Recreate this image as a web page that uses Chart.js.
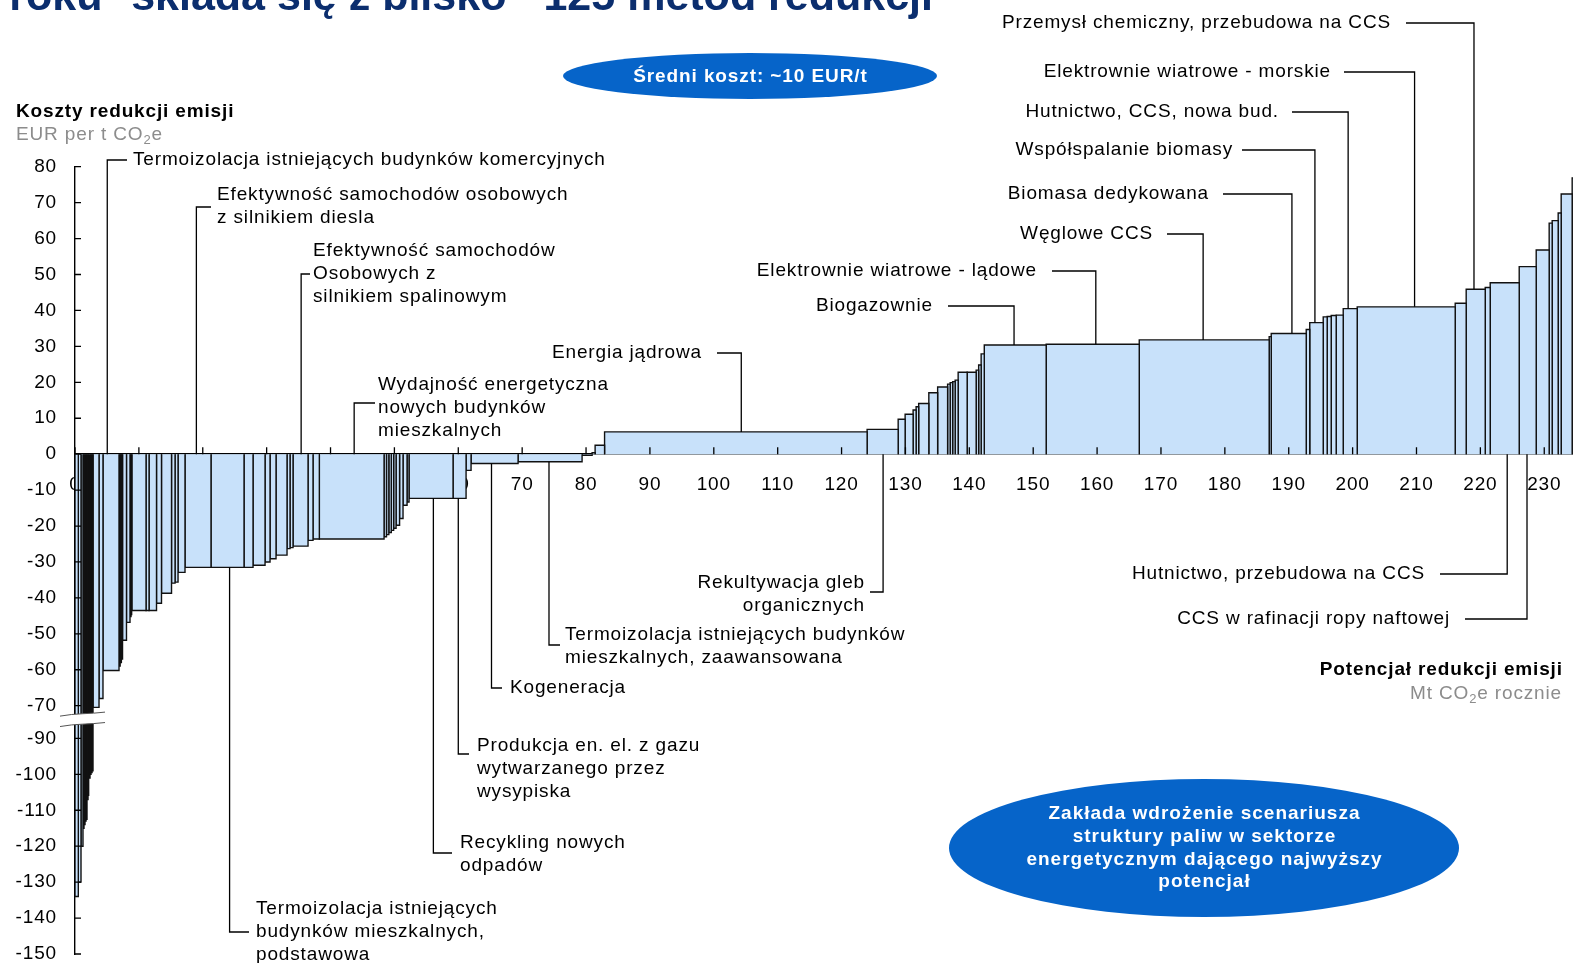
<!DOCTYPE html>
<html>
<head>
<meta charset="utf-8">
<script src="https://cdn.jsdelivr.net/npm/chart.js@4.4.1/dist/chart.umd.min.js"></script>
<style>
  html, body { margin: 0; padding: 0; background: #fff; overflow: hidden; }
  canvas { display: block; }
</style>
</head>
<body>
<canvas id="macc" width="1573" height="963"></canvas>
<script>
// Abatement measures in merit order: potential (Mt CO2e per year) and cost (EUR per t CO2e)
const barWidths = [
  0.52, 0.42, 0.31,
  0.16, 0.16, 0.16, 0.15, 0.16, 0.15, 0.16, 0.16, 0.16, 0.15,
  0.94, 0.62, 2.51, 0.18, 0.19, 0.18,
  0.62, 0.55, 0.16, 0.15, 2.20, 0.47, 1.17, 0.78, 1.57, 0.55, 0.47,
  1.09, 4.07, 5.17, 1.41, 1.88, 0.78, 0.94, 1.72, 0.47, 0.47,
  2.35, 0.78, 0.99, 10.13, 0.38, 0.37, 0.38, 0.37, 0.38, 0.55,
  0.54, 0.63, 0.31, 6.89, 2.04, 0.78, 7.36, 10.02, 1.57, 0.47,
  1.48, 41.10, 4.86, 1.09, 1.25, 0.47, 0.40, 1.59, 1.38, 1.56,
  0.40, 0.39, 0.39, 0.47, 1.41, 1.41, 0.39, 0.39, 0.49, 9.69,
  14.57, 20.34, 0.32, 5.48, 0.55, 2.11, 0.62, 0.63, 0.78, 1.10,
  2.19, 15.34, 1.72, 2.98, 0.78, 4.54, 2.66, 2.03, 0.47, 0.94,
  0.47, 1.72, 1.63
];
const barCosts = [
  -134, -130, -120,
  -115, -114, -113, -112.5, -107, -106, -101, -100, -99.5, -99,
  -71, -68, -60.2, -59, -58, -57,
  -51.8, -46.8, -45.2, -44.8, -43.5, -43.5, -43.5, -41.5, -38.7, -35.9, -35.6,
  -32.9, -31.5, -31.5, -31.5, -30.9, -30, -29.1, -28.1, -26.3, -26,
  -25.6, -24, -23.6, -23.6, -23, -22.4, -21.8, -21.2, -20.6, -19.8,
  -17.9, -14.2, -13.3, -12.3, -12.3, -4.5, -2.6, -2.1, -0.3, 0.4,
  2.5, 6.2, 6.9, 9.7, 11.1, 12.3, 13.2, 14.1, 17.1, 18.7,
  19.5, 19.9, 20.2, 20.6, 22.8, 22.8, 23.4, 24.8, 27.9, 30.4,
  30.6, 31.8, 32.7, 33.6, 34.7, 36.6, 38.2, 38.3, 38.6, 38.7,
  40.5, 41.0, 42.0, 45.9, 46.4, 47.7, 52.2, 56.8, 64.3, 65.0,
  67.1, 72.4, 76.9
];
const xTickValues = [0, 10, 20, 30, 40, 50, 60, 70, 80, 90, 100, 110, 120, 130, 140, 150, 160, 170, 180, 190, 200, 210, 220, 230];
const xTickLabels = xTickValues.map(String);
const yTickValues = [80, 70, 60, 50, 40, 30, 20, 10, 0, -10, -20, -30, -40, -50, -60, -70, -90, -100, -110, -120, -130, -140, -150];
const yTickLabels = yTickValues.map(String);

const FONT = '"Liberation Sans", Arial, Helvetica, sans-serif';
const TRACKING = '0.85px';
const BAR_FILL = '#c8e1fa';
const EDGE = '#111111';
const BLUE = '#0664c9';
const NAVY = '#0b2e6e';

// Broken cost axis: the stretch from -70 to -90 is squeezed, everything below -90 is moved up.
function toAxis(v) {
  if (v >= -70) return v;
  if (v <= -90) return v + 10.9;
  return -70 + (v + 70) * (9.1 / 20);
}

// Bars laid end to end along the potential axis
const bars = [];
let runningX = 0;
barCosts.forEach((cost, i) => {
  const x0 = runningX, x1 = runningX + barWidths[i];
  runningX = x1;
  bars.push({ x0, x1, cost });
});

function costAt(xv) {
  const b = bars.find(b => xv >= b.x0 && xv < b.x1);
  return b ? b.cost : 0;
}

const datasets = bars.map(b => {
  const h = toAxis(b.cost);
  return {
    data: [{ x: b.x0, y: 0 }, { x: b.x0, y: h }, { x: b.x1, y: h }, { x: b.x1, y: 0 }],
    fill: 'origin',
    backgroundColor: BAR_FILL,
    borderColor: EDGE,
    borderWidth: 1.4,
    borderJoinStyle: 'miter',
    pointRadius: 0,
    pointHoverRadius: 0,
    tension: 0
  };
});

// Named measures with elbow leader lines
const callouts = [
  { lines: ['Termoizolacja istniejących budynków komercyjnych'], at: 5.05, tx: 133, ty: 160, align: 'left', elbow: 160, from: 127 },
  { lines: ['Efektywność samochodów osobowych', 'z silnikiem diesla'], at: 19.0, tx: 217, ty: 195, align: 'left', elbow: 207, from: 211 },
  { lines: ['Efektywność samochodów', 'Osobowych z', 'silnikiem spalinowym'], at: 35.4, tx: 313, ty: 251, align: 'left', elbow: 274, from: 310 },
  { lines: ['Wydajność energetyczna', 'nowych budynków', 'mieszkalnych'], at: 43.7, tx: 378, ty: 385, align: 'left', elbow: 403, from: 375 },
  { lines: ['Energia jądrowa'], at: 104.3, tx: 702, ty: 353, align: 'right', elbow: 353, from: 717 },
  { lines: ['Biogazownie'], at: 147.0, tx: 933, ty: 306, align: 'right', elbow: 306, from: 948 },
  { lines: ['Elektrownie wiatrowe - lądowe'], at: 159.8, tx: 1037, ty: 271, align: 'right', elbow: 271, from: 1052 },
  { lines: ['Węglowe CCS'], at: 176.6, tx: 1153, ty: 234, align: 'right', elbow: 234, from: 1167 },
  { lines: ['Biomasa dedykowana'], at: 190.5, tx: 1209, ty: 194, align: 'right', elbow: 194, from: 1223 },
  { lines: ['Współspalanie biomasy'], at: 194.1, tx: 1233, ty: 150, align: 'right', elbow: 150, from: 1242 },
  { lines: ['Hutnictwo, CCS, nowa bud.'], at: 199.3, tx: 1279, ty: 112, align: 'right', elbow: 112, from: 1292 },
  { lines: ['Elektrownie wiatrowe - morskie'], at: 209.7, tx: 1331, ty: 72, align: 'right', elbow: 72, from: 1344 },
  { lines: ['Przemysł chemiczny, przebudowa na CCS'], at: 219.0, tx: 1391, ty: 23, align: 'right', elbow: 23, from: 1406 },
  { lines: ['Hutnictwo, przebudowa na CCS'], at: 224.2, tx: 1425, ty: 574, align: 'right', elbow: 574, from: 1440, below: true },
  { lines: ['CCS w rafinacji ropy naftowej'], at: 227.3, tx: 1450, ty: 619, align: 'right', elbow: 619, from: 1465, below: true },
  { lines: ['Rekultywacja gleb', 'organicznych'], at: 126.5, tx: 865, ty: 583, align: 'right', elbow: 592, from: 870, below: true },
  { lines: ['Termoizolacja istniejących budynków', 'mieszkalnych, zaawansowana'], at: 74.2, tx: 565, ty: 635, align: 'left', elbow: 645, from: 560, below: true },
  { lines: ['Kogeneracja'], at: 65.2, tx: 510, ty: 688, align: 'left', elbow: 688, from: 502, below: true },
  { lines: ['Produkcja en. el. z gazu', 'wytwarzanego przez', 'wysypiska'], at: 60.0, tx: 477, ty: 746, align: 'left', elbow: 754, from: 469, below: true },
  { lines: ['Recykling nowych', 'odpadów'], at: 56.1, tx: 460, ty: 843, align: 'left', elbow: 853, from: 452, below: true },
  { lines: ['Termoizolacja istniejących', 'budynków mieszkalnych,', 'podstawowa'], at: 24.2, tx: 256, ty: 909, align: 'left', elbow: 932, from: 249, below: true }
];
const LINE_GAP = 22.7;

// Right-aligned text that also counts the trailing letter gap
function fillTracked(ctx, text, x, y, align) {
  if (align === 'right') {
    ctx.textAlign = 'left';
    ctx.fillText(text, x - ctx.measureText(text).width + parseFloat(ctx.letterSpacing || '0'), y);
  } else if (align === 'center') {
    ctx.textAlign = 'left';
    ctx.fillText(text, x - (ctx.measureText(text).width - parseFloat(ctx.letterSpacing || '0')) / 2, y);
  } else {
    ctx.textAlign = 'left';
    ctx.fillText(text, x, y);
  }
}

function drawSubscripted(ctx, parts, x, y, align, size, color) {
  const main = size + 'px ' + FONT;
  const small = Math.round(size * 0.68) + 'px ' + FONT;
  ctx.save();
  ctx.fillStyle = color;
  ctx.textBaseline = 'middle';
  ctx.textAlign = 'left';
  const widths = parts.map((p, i) => { ctx.font = i % 2 ? small : main; return ctx.measureText(p).width; });
  const total = widths.reduce((a, b) => a + b, 0);
  let cx = align === 'right' ? x - total : x;
  parts.forEach((p, i) => {
    ctx.font = i % 2 ? small : main;
    ctx.fillText(p, cx, i % 2 ? y + 5 : y);
    cx += widths[i];
  });
  ctx.restore();
}

const tracking = {
  id: 'tracking',
  beforeLayout(chart) { chart.ctx.letterSpacing = TRACKING; },
  beforeDraw(chart) { chart.ctx.letterSpacing = TRACKING; }
};

const decor = {
  id: 'maccDecor',
  afterDatasetsDraw(chart) {
    const { ctx, scales: { x, y } } = chart;
    const y0 = y.getPixelForValue(0);
    ctx.save();
    ctx.strokeStyle = '#000';
    ctx.lineWidth = 1.3;
    // inward tick marks
    ctx.beginPath();
    xTickValues.forEach(v => {
      const px = x.getPixelForValue(v);
      ctx.moveTo(px, y0); ctx.lineTo(px, y0 - 7);
    });
    yTickValues.forEach(v => {
      const py = y.getPixelForValue(toAxis(v));
      ctx.moveTo(x.left, py); ctx.lineTo(x.left + 6, py);
    });
    ctx.stroke();

    // axis break band
    const xl = x.left - 15, xr = x.getPixelForValue(4.7);
    const t1 = y.getPixelForValue(-72.9), t2 = y.getPixelForValue(-75.8);
    const slope = -4;
    const curve = (yy) => {
      ctx.moveTo(xl, yy);
      ctx.bezierCurveTo(xl + (xr - xl) * 0.35, yy - 3, xl + (xr - xl) * 0.65, yy + slope + 2, xr, yy + slope);
    };
    ctx.beginPath();
    curve(t1);
    ctx.lineTo(xr, t2 + slope);
    ctx.bezierCurveTo(xl + (xr - xl) * 0.65, t2 + slope + 2, xl + (xr - xl) * 0.35, t2 - 3, xl, t2);
    ctx.closePath();
    ctx.fillStyle = '#fff';
    ctx.fill();
    ctx.beginPath();
    curve(t1);
    curve(t2);
    ctx.strokeStyle = '#555';
    ctx.lineWidth = 1;
    ctx.stroke();

    // leader lines and labels
    ctx.strokeStyle = '#000';
    ctx.lineWidth = 1.3;
    ctx.fillStyle = '#000';
    ctx.font = '19px ' + FONT;
    ctx.letterSpacing = TRACKING;
    ctx.textBaseline = 'middle';
    callouts.forEach(c => {
      const ax = x.getPixelForValue(c.at);
      const cost = costAt(c.at);
      const yEnd = c.below ? y.getPixelForValue(Math.min(0, toAxis(cost)))
                           : y.getPixelForValue(Math.max(0, cost));
      ctx.beginPath();
      ctx.moveTo(c.from, c.elbow);
      ctx.lineTo(ax, c.elbow);
      ctx.lineTo(ax, yEnd);
      ctx.stroke();
      c.lines.forEach((t, i) => fillTracked(ctx, t, c.tx, c.ty + i * LINE_GAP, c.align));
    });
    ctx.restore();
  },
  afterDraw(chart) {
    const ctx = chart.ctx;
    ctx.save();
    ctx.letterSpacing = '0px';
    // headline (runs off the top edge)
    ctx.fillStyle = NAVY;
    ctx.font = 'bold 43px ' + FONT;
    ctx.textAlign = 'right';
    ctx.textBaseline = 'alphabetic';
    ctx.fillText('roku* składa się z blisko ~125 metod redukcji', 933, 10);

    ctx.letterSpacing = TRACKING;
    // axis titles
    ctx.fillStyle = '#000';
    ctx.font = 'bold 19px ' + FONT;
    ctx.textBaseline = 'middle';
    fillTracked(ctx, 'Koszty redukcji emisji', 16, 112, 'left');
    drawSubscripted(ctx, ['EUR per t CO', '2', 'e'], 16, 135, 'left', 19, '#8c8c8c');
    ctx.fillStyle = '#000';
    ctx.font = 'bold 19px ' + FONT;
    fillTracked(ctx, 'Potencjał redukcji emisji', 1562, 670, 'right');
    drawSubscripted(ctx, ['Mt CO', '2', 'e rocznie'], 1562, 694, 'right', 19, '#8c8c8c');

    // call-out ellipses
    ctx.fillStyle = BLUE;
    ctx.beginPath();
    ctx.ellipse(750, 76, 187, 23, 0, 0, Math.PI * 2);
    ctx.fill();
    ctx.beginPath();
    ctx.ellipse(1204, 848, 255, 69, 0, 0, Math.PI * 2);
    ctx.fill();
    ctx.fillStyle = '#fff';
    ctx.letterSpacing = '0.9px';
    ctx.font = 'bold 19px ' + FONT;
    fillTracked(ctx, 'Średni koszt: ~10 EUR/t', 750, 77, 'center');
    ctx.letterSpacing = '1px';
    ['Zakłada wdrożenie scenariusza', 'struktury paliw w sektorze', 'energetycznym dającego najwyższy', 'potencjał']
      .forEach((t, i) => fillTracked(ctx, t, 1204, 814 + i * 22.7, 'center'));
    ctx.restore();
  }
};

new Chart(document.getElementById('macc'), {
  type: 'line',
  data: { datasets },
  plugins: [tracking, decor],
  options: {
    responsive: false,
    animation: false,
    devicePixelRatio: 1,
    events: [],
    layout: { padding: { left: 0, right: 0, top: 166.7, bottom: 9 } },
    plugins: { legend: { display: false }, tooltip: { enabled: false } },
    scales: {
      x: {
        type: 'linear',
        position: { y: 0 },
        min: 0,
        max: 234.5,
        z: 1,
        grid: { display: false, drawTicks: false },
        border: { display: true, color: '#000', width: 1.4 },
        afterBuildTicks: s => { s.ticks = xTickValues.map(v => ({ value: v })); },
        afterFit: s => { s.paddingLeft = 0; s.paddingRight = 0; },
        ticks: {
          autoSkip: false,
          maxRotation: 0,
          padding: 19,
          color: '#000',
          font: { family: FONT, size: 19 },
          callback: (v, i) => xTickLabels[i]
        }
      },
      y: {
        type: 'linear',
        position: 'left',
        min: toAxis(-150),
        max: 80,
        grid: { display: false, drawTicks: false },
        border: { display: true, color: '#000', width: 1.4 },
        afterBuildTicks: s => { s.ticks = yTickValues.map(v => ({ value: toAxis(v) })); },
        afterFit: s => { s.width = 75; s.paddingTop = 0; s.paddingBottom = 0; },
        ticks: {
          autoSkip: false,
          padding: 18,
          color: '#000',
          font: { family: FONT, size: 19 },
          callback: (v, i) => yTickLabels[i]
        }
      }
    }
  }
});
</script>
</body>
</html>
